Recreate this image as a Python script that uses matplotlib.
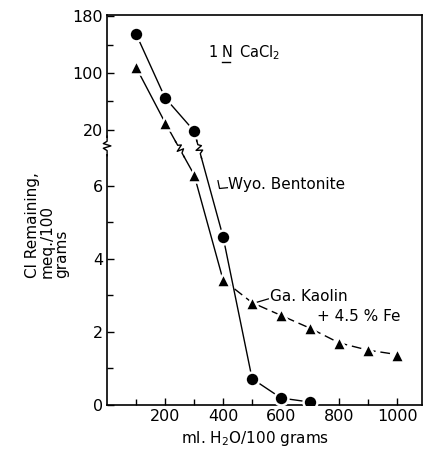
import numpy as np
import matplotlib.pyplot as plt

# ml H2O / 100 g leached, Cl remaining (meq./100 g)
bent_x = [100, 200, 300, 400, 500, 600, 700]
bent_y = [155, 65, 19, 4.6, 0.72, 0.19, 0.08]
kaol_x = [100, 200, 300, 400, 500, 600, 700, 800, 900, 1000]
kaol_y = [108, 30, 6.3, 3.42, 2.8, 2.45, 2.1, 1.7, 1.5, 1.38]

y_major = [0, 2, 4, 6, 20, 100, 180]
y_minor = [1, 3, 5, 60, 140]
x_major = [200, 400, 600, 800, 1000]
x_minor = [100, 300, 500, 700, 900]

# broken y scale: linear 0-7.1, squeezed gap, then compressed 20-180
B, G, K = 7.1, 7.53, 0.0194


def fwd(y):
    y = np.asarray(y, dtype=float)
    mid = B + (y - B) / (20 - B) * (G - B)
    top = G + (y - 20) * K
    return np.where(y <= B, y, np.where(y <= 20, mid, top))


def inv(p):
    p = np.asarray(p, dtype=float)
    mid = B + (p - B) / (G - B) * (20 - B)
    top = 20 + (p - G) / K
    return np.where(p <= B, p, np.where(p <= G, mid, top))


plt.rcParams['font.family'] = 'DejaVu Sans'
fig = plt.figure(figsize=(4.25, 4.51), dpi=100)
ax = fig.add_axes([0.252, 0.102, 0.741, 0.865])
ax.set_yscale('function', functions=(fwd, inv))
ax.set_xlim(0, 1086)
ax.set_ylim(0, 182)

ax.plot(bent_x, bent_y, '-', color='black', lw=1.0)
ax.plot(kaol_x[:4], kaol_y[:4], '-', color='black', lw=1.0)
ax.plot(kaol_x[3:], kaol_y[3:], color='black', lw=1.0, dashes=(7, 3.5))
ax.plot(bent_x, bent_y, ls='none', marker='o', ms=10, mfc='black',
        mec='white', mew=1.8, zorder=8)
ax.plot(kaol_x, kaol_y, ls='none', marker='^', ms=9.5, mfc='black',
        mec='white', mew=1.8, zorder=8)

ax.set_yticks(y_major)
ax.set_yticks(y_minor, minor=True)
ax.set_xticks(x_major)
ax.set_xticks(x_minor, minor=True)
ax.tick_params(which='both', direction='in', labelsize=11.5, width=1)
ax.tick_params(which='major', length=5, pad=3)
ax.tick_params(which='minor', length=4)
for s in ax.spines.values():
    s.set_linewidth(1.2)

to_axes = ax.transData + ax.transAxes.inverted()


def zigzag(xc, yc, dx, dy, w):
    # little break symbol centred at (xc, yc) in axes fraction,
    # running along (dx, dy) with a sideways wiggle of width w
    n = np.hypot(dx, dy)
    ux, uy = dx / n, dy / n
    px, py = -uy, ux
    t = np.array([-0.025, -0.012, -0.006, 0.0, 0.006, 0.012, 0.025])
    s = np.array([0, 0, 1, -1, 1, 0, 0]) * w
    ax.plot(xc + ux * t * 0.8, yc + uy * t * 0.8, color='white', lw=3,
            transform=ax.transAxes, clip_on=False, zorder=5,
            solid_capstyle='butt')
    ax.plot(xc + ux * t + px * s, yc + uy * t + py * s, color='black',
            lw=1.0, transform=ax.transAxes, clip_on=False, zorder=6)


# break mark on the y axis
yb = (405 - 146) / 390
zigzag(0.0, yb, 0, 1, 0.012)

# break marks where each curve crosses the gap
cut = 7.0
for xs, ys in [(bent_x, bent_y), (kaol_x, kaol_y)]:
    ps = fwd(ys)
    for i in range(len(xs) - 1):
        if ps[i] > cut >= ps[i + 1]:
            a = to_axes.transform([xs[i], ys[i]])
            b = to_axes.transform([xs[i + 1], ys[i + 1]])
            f = (ps[i] - cut) / (ps[i] - ps[i + 1])
            c = a + f * (b - a)
            zigzag(c[0], c[1], b[0] - a[0], b[1] - a[1], 0.01)

# annotations
ax.text(0.322, 0.903, '1', fontsize=10.5, transform=ax.transAxes,
        va='center')
ax.text(0.364, 0.903, 'N', fontsize=10.5, transform=ax.transAxes,
        va='center')
ax.plot([0.364, 0.391], [0.878, 0.878], color='black', lw=1,
        transform=ax.transAxes)
ax.text(0.418, 0.903, 'CaCl$_2$', fontsize=10.5, transform=ax.transAxes,
        va='center')

ax.text(0.384, 0.564, 'Wyo. Bentonite', fontsize=11, transform=ax.transAxes,
        va='center')
ax.plot([0.352, 0.357, 0.382], [0.575, 0.555, 0.557], color='black', lw=0.9,
        transform=ax.transAxes)

ax.text(0.517, 0.279, 'Ga. Kaolin', fontsize=11, transform=ax.transAxes,
        va='center')
ax.plot([0.47, 0.512], [0.262, 0.272], color='black', lw=0.9,
        transform=ax.transAxes)
ax.text(0.668, 0.226, '+ 4.5 % Fe', fontsize=11, transform=ax.transAxes,
        va='center')

fig.text(0.11, 0.384, 'Cl Remaining,\nmeq./100\ngrams', rotation=90,
         ha='center', va='bottom', multialignment='left', fontsize=11,
         linespacing=0.95)
fig.text(0.60, 0.028, 'ml. H$_2$O/100 grams', ha='center', va='center',
         fontsize=11)

fig.savefig('out.png', dpi=100)
